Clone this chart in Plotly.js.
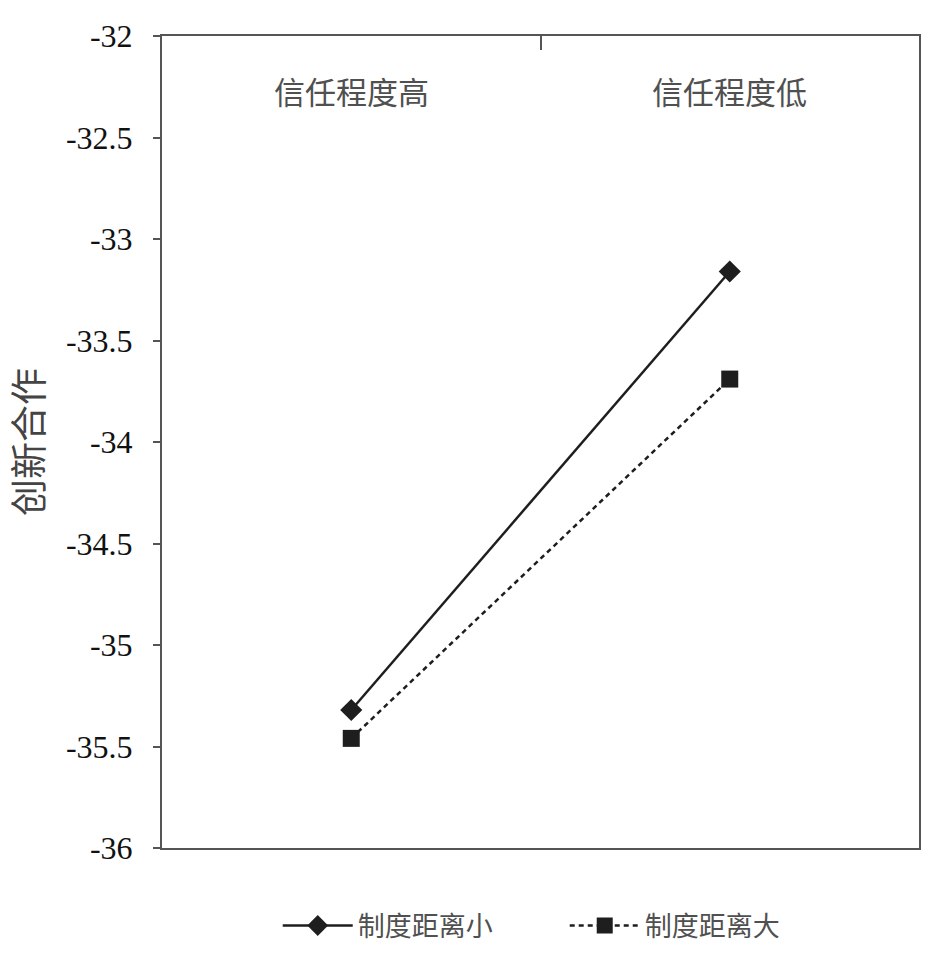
<!DOCTYPE html>
<html>
<head>
<meta charset="utf-8">
<script src="https://cdn.plot.ly/plotly-3.0.1.min.js"></script>
<style>html,body{margin:0;padding:0;background:#fff;}#chart{width:934px;height:962px;}</style>
</head>
<body>
<div id="chart"></div>
<script>
const categories = ["信任程度高", "信任程度低"];
const seriesNames = ["制度距离小", "制度距离大"];
const smallDistance = [-35.32, -33.16];
const largeDistance = [-35.46, -33.69];
const yTickVals = [-32, -32.5, -33, -33.5, -34, -34.5, -35, -35.5, -36];
const yTickText = ["-32", "-32.5", "-33", "-33.5", "-34", "-34.5", "-35", "-35.5", "-36"];
const yTitle = "创新合作";

const cjk = '"Noto Sans CJK SC", "Noto Sans", sans-serif';
const serif = '"Liberation Serif", "DejaVu Serif", serif';

const traces = [
  {
    x: categories, y: smallDistance, name: seriesNames[0], type: 'scatter', mode: 'lines+markers',
    line: {color: '#1e1e1e', width: 2.5},
    marker: {symbol: 'diamond', size: 17, color: '#1e1e1e'}
  },
  {
    x: categories, y: largeDistance, name: seriesNames[1], type: 'scatter', mode: 'lines+markers',
    line: {color: '#1e1e1e', width: 2.5, dash: '5px,4px'},
    marker: {symbol: 'square', size: 17, color: '#1e1e1e'}
  }
];

const annotations = categories.map(c => ({
  x: c, xref: 'x', y: 1, yref: 'paper', yanchor: 'middle', yshift: -54,
  text: c, showarrow: false,
  font: {family: cjk, size: 31, color: '#505050'}
}));

const layout = {
  width: 934, height: 962,
  margin: {l: 162, r: 15, t: 36, b: 110},
  paper_bgcolor: '#fff', plot_bgcolor: '#fff',
  showlegend: true,
  legend: {
    orientation: 'h', x: 0.532, xanchor: 'center', y: -0.096, yanchor: 'middle',
    font: {family: cjk, size: 27, color: '#505050'}, itemwidth: 70, entrywidth: 202, traceorder: 'normal'
  },
  annotations: annotations,
  xaxis: {
    type: 'category', categoryorder: 'array', categoryarray: categories,
    range: [-0.5, 1.5], side: 'top',
    ticks: 'inside', ticklen: 14, tickwidth: 2, tickcolor: '#555', tickson: 'boundaries',
    showticklabels: false,
    showline: true, linecolor: '#555', linewidth: 2, mirror: true,
    showgrid: false, zeroline: false, fixedrange: true
  },
  yaxis: {
    range: [-36, -32], tickmode: 'array', tickvals: yTickVals, ticktext: yTickText,
    ticks: 'outside', ticklen: 7, tickwidth: 2, tickcolor: '#555',
    ticklabelstandoff: 14,
    tickfont: {family: serif, size: 32, color: '#111'},
    showline: true, linecolor: '#555', linewidth: 2, mirror: true,
    showgrid: false, zeroline: false, fixedrange: true,
    title: {text: yTitle, font: {family: cjk, size: 37, color: '#444'}, standoff: 18}
  }
};

Plotly.newPlot('chart', traces, layout, {displayModeBar: false, staticPlot: true});
</script>
</body>
</html>
